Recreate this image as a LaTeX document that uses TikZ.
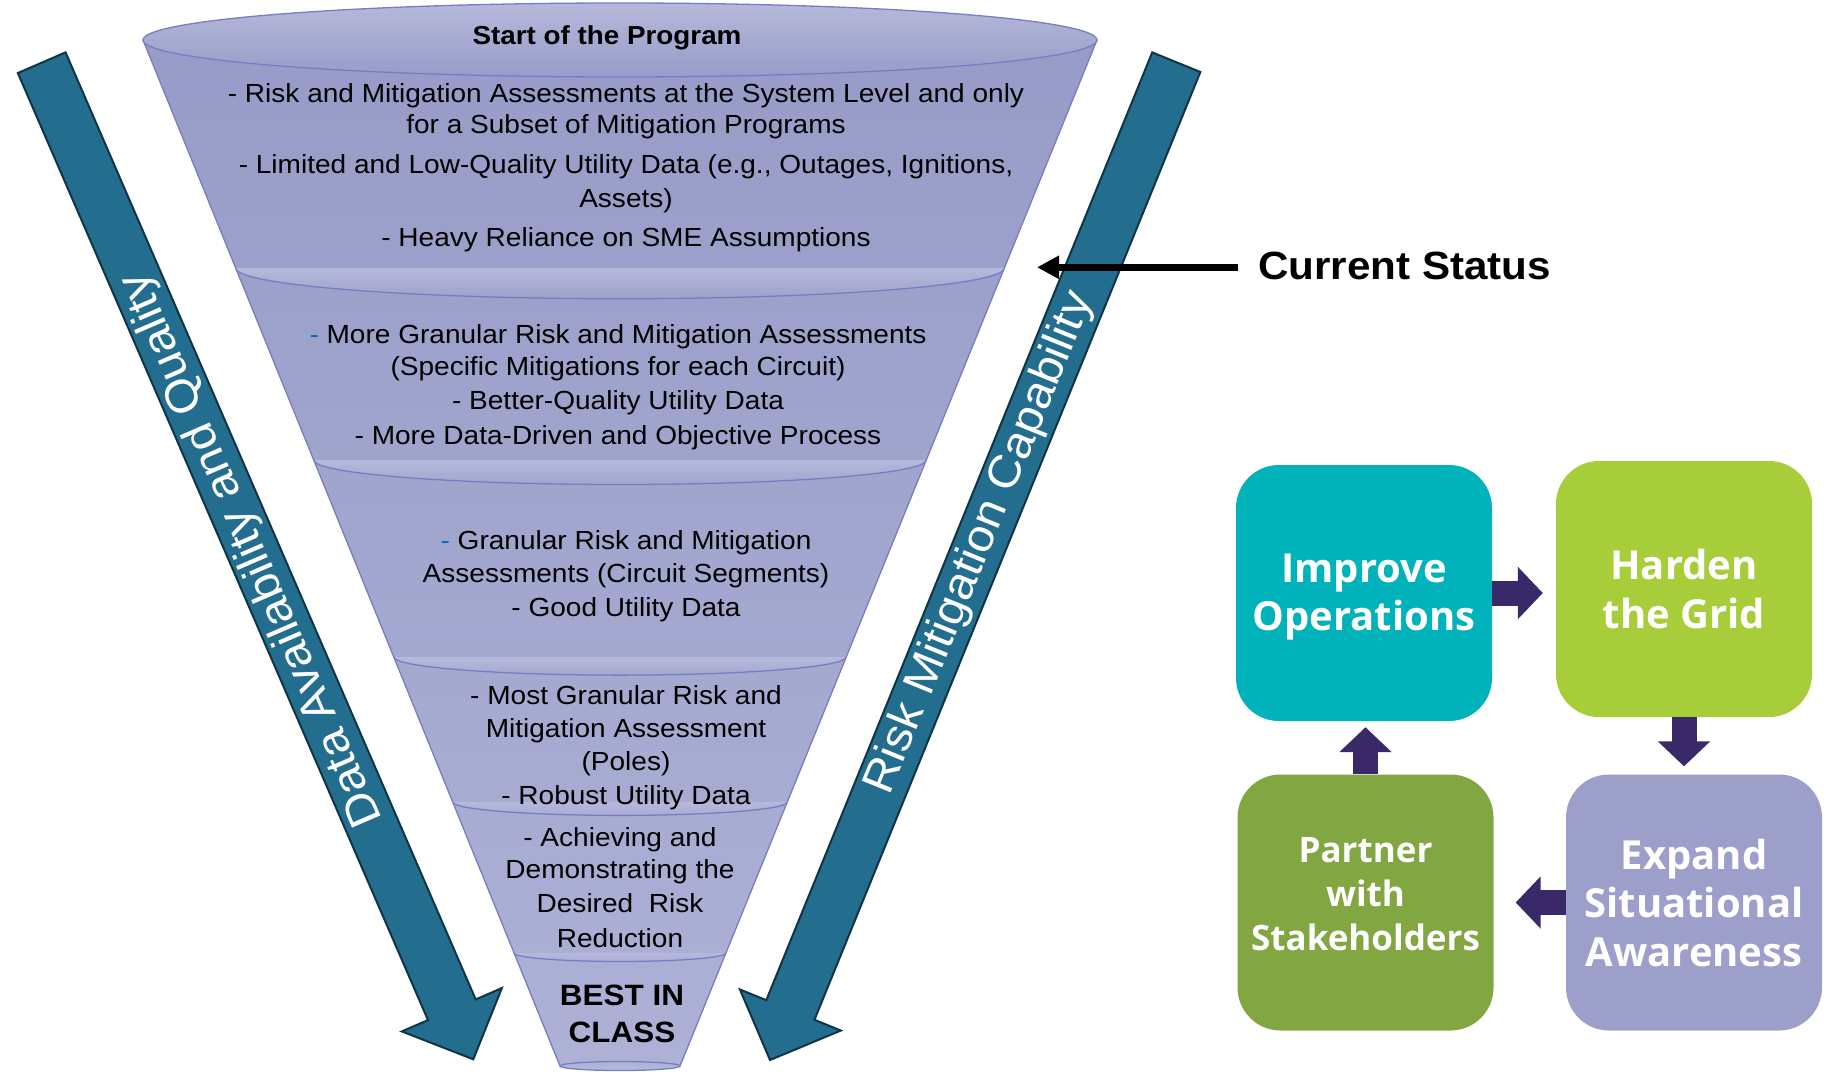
\documentclass[tikz,border=0pt]{standalone}
\usepackage{fontspec}
\setmainfont{Liberation Sans}[FakeStretch=1.07]
\newfontfamily\boxfont{Open Sans}
\usepackage{tikz}
\usetikzlibrary{calc, arrows.meta}
\definecolor{fnltop}{RGB}{150, 156, 199}
\definecolor{fnlbot}{RGB}{173, 177, 214}
\definecolor{fnlcap}{RGB}{182, 185, 219}
\definecolor{fnlline}{RGB}{118, 126, 194}
\definecolor{dashblue}{RGB}{0, 112, 192}
\definecolor{bigcol}{RGB}{35, 110, 143}
\definecolor{bigline}{RGB}{16, 52, 70}
\definecolor{flowcol}{RGB}{57, 41, 104}
\definecolor{impcol}{RGB}{0, 178, 185}
\definecolor{hrdcol}{RGB}{167, 206, 58}
\definecolor{expcol}{RGB}{157, 159, 203}
\definecolor{prtcol}{RGB}{130, 166, 65}

\begin{document}
\begin{tikzpicture}[x=1pt, y=-1pt,
  fnltxt/.style={font=\fontsize{26.2}{30}\selectfont, anchor=base, inner sep=0},
  bigtxt/.style={font=\fontsize{45}{50}\selectfont, text=white, inner sep=0},
  bigarrow/.style={fill=bigcol, draw=bigline, line width=2, line join=miter},
  tile/.style={rounded corners=43, minimum width=256, minimum height=256, inner sep=0},
  tiletxt/.style={align=center, text=white, inner sep=0, font=\boxfont\bfseries\fontsize{40}{48.5}\selectfont},
  flow/.style={draw=flowcol, line width=25, -{Triangle[length=25pt, width=51pt]}}]

\useasboundingbox (0, 0) rectangle (1833, 1071);

% funnel body
\shade[top color=fnltop, bottom color=fnlbot] (143, 40) -- (1097, 40) -- (680, 1066) -- (560, 1066) -- cycle;
\draw[fnlline, line width=1.3] (143, 40) -- (560, 1066) (1097, 40) -- (680, 1066);

% rims between the stages
\foreach \yb in {268, 460, 657, 802, 953} {
  \pgfmathsetmacro{\hw}{477 - 0.4064 * (\yb - 40)}
  \pgfmathsetmacro{\ry}{0.08 * \hw}
  \pgfmathsetmacro{\pc}{(1066 - \yb) / 10.26}
  \colorlet{capbot}{fnltop!\pc!fnlbot}
  \shade[top color=fnlcap, bottom color=capbot] (620 - \hw, \yb) -- (620 + \hw, \yb)
    arc[start angle=0, end angle=180, x radius=\hw, y radius=\ry] -- cycle;
  \draw[fnlline, line width=1.3] (620 + \hw, \yb) arc[start angle=0, end angle=180, x radius=\hw, y radius=\ry];
}

\shadedraw[top color=fnlcap, bottom color=fnltop, draw=fnlline, line width=1.3] (620, 40) ellipse [x radius=477, y radius=37];
\shadedraw[top color=fnlbot, bottom color=fnlcap, draw=fnlline, line width=1.3] (620, 1066) ellipse [x radius=60, y radius=4.5];

% stage texts
\node[fnltxt, font=\fontsize{26}{30}\selectfont\bfseries] (title) at (607, 44) {Start of the Program};
\foreach \x/\y/\t in {626/102/{- Risk and Mitigation Assessments at the System Level and only},
    626/133.5/{for a Subset of Mitigation Programs},
    626/173.5/{- Limited and Low-Quality Utility Data (e.g., Outages, Ignitions,},
    626/207/{Assets)},
    626/246/{- Heavy Reliance on SME Assumptions},
    618/343/{\textcolor{dashblue}{-} More Granular Risk and Mitigation Assessments},
    618/375/{(Specific Mitigations for each Circuit)},
    618/409/{- Better-Quality Utility Data},
    618/444/{- More Data-Driven and Objective Process},
    626/549/{\textcolor{dashblue}{-} Granular Risk and Mitigation},
    626/582/{Assessments (Circuit Segments)},
    626/616/{- Good Utility Data},
    626/704/{- Most Granular Risk and},
    626/737/{Mitigation Assessment},
    626/770/{(Poles)},
    626/804/{- Robust Utility Data},
    620/846/{- Achieving and},
    620/878/{Demonstrating the},
    620/912/{Desired\ \ Risk},
    620/947/{Reduction}} {
  \node[fnltxt] (ln\y) at (\x, \y) {\t};
}
\node[fnltxt, font=\fontsize{29.4}{34}\selectfont\bfseries] (best) at (622, 1005) {BEST IN};
\node[fnltxt, font=\fontsize{29.4}{34}\selectfont\bfseries] (class) at (622, 1042) {CLASS};

% the two long arrows
\coordinate (daT) at (41.7, 62.7);
\coordinate (daP) at (473.3, 1059.3);
\coordinate (raT) at (1176.3, 62.2);
\coordinate (raP) at (770, 1060);
\foreach \a in {da, ra} {
  \coordinate (\a N) at ($(\a P)!54pt!(\a T)$);
  \draw[bigarrow] ($(\a T)!26pt!90:(\a P)$) -- ($(\a N)!26pt!90:(\a P)$) -- ($(\a N)!54.5pt!90:(\a P)$)
    -- (\a P) -- ($(\a N)!54.5pt!-90:(\a P)$) -- ($(\a N)!26pt!-90:(\a P)$) -- ($(\a T)!26pt!-90:(\a P)$) -- cycle;
}
\node[bigtxt, rotate=113.4] (datxt) at ($(daT)!0.4885!(daP)$) {Data Availability and Quality};
\node[bigtxt, rotate=67.8] (ratxt) at ($(raT)!0.482!(raP)$) {Risk Mitigation Capability};

% current status marker
\node[font=\fontsize{39.4}{44}\selectfont\bfseries, anchor=base west, inner xsep=20, inner ysep=0] (cs) at (1238, 279.3) {Current Status};
\coordinate (csend) at (1037, 267.3);
\draw[line width=6.7, -{Triangle[length=22pt, width=22pt]}] (cs.west |- csend) -- (csend);

% cycle of actions
\node[tile, fill=impcol, label={[tiletxt, yshift=-4pt]center:{Improve\\Operations}}] (imp) at (1364, 593) {};
\node[tile, fill=hrdcol, label={[tiletxt]center:{Harden\\the Grid}}] (hrd) at (1684, 589) {};
\node[tile, fill=expcol, label={[tiletxt]center:{Expand\\Situational\\Awareness}}] (exp) at (1694, 902.5) {};
\node[tile, fill=prtcol, label={[tiletxt, yshift=8pt, font=\boxfont\bfseries\fontsize{35}{44}\selectfont]center:{Partner\\with\\Stakeholders}}] (prt) at (1365.5, 902.5) {};

\draw[flow, shorten >=13] (imp.east) -- (imp.east -| hrd.west);
\draw[flow, shorten >=8] (hrd.south) -- (hrd.south |- exp.north);
\draw[flow, shorten >=22] (exp.west) -- (exp.west -| prt.east);
\draw[flow, shorten >=6] (prt.north) -- (prt.north |- imp.south);

\end{tikzpicture}
\end{document}
